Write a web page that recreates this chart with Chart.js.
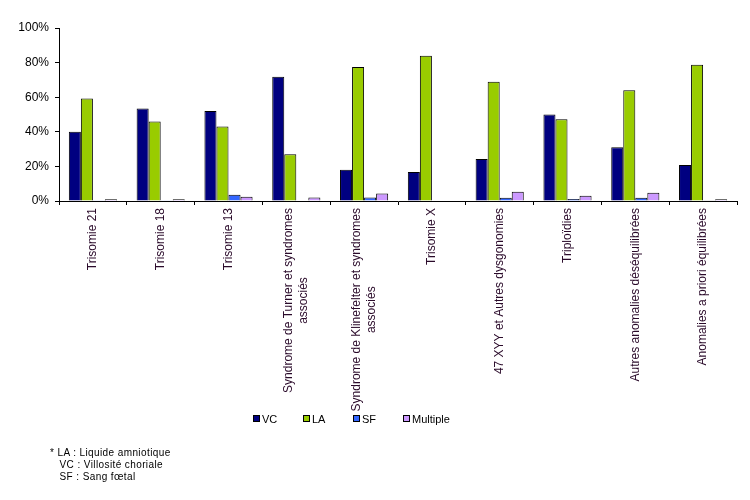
<!DOCTYPE html>
<html>
<head>
<meta charset="utf-8">
<script src="https://cdn.jsdelivr.net/npm/chart.js@4.4.1/dist/chart.umd.min.js"></script>
<style>
    html, body { margin: 0; padding: 0; background: #fff; }
    #wrap { position: relative; width: 750px; height: 500px; }
    #note {
        position: absolute; left: 50px; top: 447px;
        font: 10px "Liberation Sans", Arial, sans-serif; letter-spacing: 0.4px;
        line-height: 12px; white-space: pre; color: #000;
    }
    #legend {
        position: absolute; left: 253px; top: 412px; height: 14px;
        font: 11px "Liberation Sans", Arial, sans-serif; color: #000;
    }
    #legend .item { position: absolute; top: 0; white-space: nowrap; line-height: 14px; }
    #legend .box {
        display: inline-block; width: 5px; height: 5px; border: 1px solid #000;
        margin-right: 2px; vertical-align: 1px;
    }
</style>
</head>
<body>
<div id="wrap">
    <canvas id="chart" width="750" height="500"></canvas>
    <div id="legend"></div>
    <div id="note">* LA : Liquide amniotique
   VC : Villosité choriale
   SF : Sang fœtal</div>
</div>
<script>
// categories (multi-line labels as arrays)
const categories = [
    ['Trisomie 21'],
    ['Trisomie 18'],
    ['Trisomie 13'],
    ['Syndrome de Turner et syndromes', 'associés'],
    ['Syndrome de Klinefelter et syndromes', 'associés'],
    ['Trisomie X'],
    ['47 XYY et Autres dysgonomies'],
    ['Triploïdies'],
    ['Autres anomalies déséquilibrées'],
    ['Anomalies a priori équilibrées']
];

// percentages per sampling type
const vcValues = [40, 53.5, 52, 71.8, 18, 16.8, 24.3, 50, 31, 20.8];
const laValues = [59.2, 46, 43, 27, 77.5, 84, 69, 47.2, 64, 78.8];
const sfValues = [0.5, 0.5, 3.6, 0, 2, 0, 1.9, 1.2, 1.9, 0.4];
const multipleValues = [1, 1, 2.4, 2, 4.4, 0, 5.4, 3, 4.8, 1];

const seriesNames = ['VC', 'LA', 'SF', 'Multiple'];
const seriesColors = ['#000080', '#99CC00', '#3366FF', '#CC99FF'];

const yTicks = [0, 20, 40, 60, 80, 100];

const FONT = '"Liberation Sans", Arial, sans-serif';

// draws the rotated x labels, with extra lines centred on the first one
const xLabelsPlugin = {
    id: 'xLabels',
    afterDraw(chart) {
        const ctx = chart.ctx;
        const xs = chart.scales.x;
        const top = chart.chartArea.bottom + 7;
        const lh = 15;
        ctx.save();
        ctx.font = '12px ' + FONT;
        ctx.fillStyle = '#2a0a2a';
        ctx.textBaseline = 'middle';
        categories.forEach((lines, i) => {
            const x = xs.getPixelForTick(i);
            const maxW = Math.max(...lines.map(l => ctx.measureText(l).width));
            ctx.save();
            ctx.translate(x, top);
            ctx.rotate(-Math.PI / 2);
            lines.forEach((line, k) => {
                const off = (k - (lines.length - 1) / 2) * lh;
                if (lines.length > 1) {
                    ctx.textAlign = 'center';
                    ctx.fillText(line, -maxW / 2, off);
                } else {
                    ctx.textAlign = 'right';
                    ctx.fillText(line, 0, off);
                }
            });
            ctx.restore();
        });
        ctx.restore();
    }
};

function makeSet(label, data, color) {
    return {
        label: label,
        data: data,
        backgroundColor: color,
        borderColor: '#000',
        borderWidth: 1,
        borderSkipped: 'bottom',
        categoryPercentage: 0.71,
        barPercentage: 1.0
    };
}

const allValues = [vcValues, laValues, sfValues, multipleValues];

const chart = new Chart(document.getElementById('chart').getContext('2d'), {
    type: 'bar',
    data: {
        labels: categories.map(c => c.join(' ')),
        datasets: seriesNames.map((name, i) => makeSet(name, allValues[i], seriesColors[i]))
    },
    options: {
        responsive: false,
        animation: false,
        layout: { padding: { top: 28, right: 13, bottom: 99, left: 4 } },
        plugins: {
            tooltip: { enabled: false },
            legend: { display: false }
        },
        scales: {
            x: {
                grid: {
                    display: true,
                    offset: true,
                    drawOnChartArea: false,
                    color: '#000',
                    tickLength: 4
                },
                border: { color: '#000', width: 1 },
                ticks: { display: false },
                afterFit(scale) { scale.height = 200; }
            },
            y: {
                min: 0,
                max: 100,
                afterBuildTicks(scale) { scale.ticks = yTicks.map(v => ({ value: v })); },
                grid: {
                    display: true,
                    drawOnChartArea: false,
                    color: '#000',
                    tickLength: 4
                },
                border: { color: '#000', width: 1 },
                ticks: {
                    color: '#000',
                    padding: 6,
                    font: { family: FONT, size: 12 },
                    callback: v => v + '%'
                },
                afterFit(scale) { scale.width = 55; }
            }
        }
    },
    plugins: [xLabelsPlugin]
});

// legend built from the chart's datasets, fixed 50px slots
const legendEl = document.getElementById('legend');
chart.data.datasets.forEach((ds, i) => {
    const item = document.createElement('span');
    item.className = 'item';
    item.style.left = (i * 50) + 'px';
    item.innerHTML = `<span class="box" style="background:${ds.backgroundColor}"></span>${ds.label}`;
    legendEl.appendChild(item);
});
</script>
</body>
</html>
